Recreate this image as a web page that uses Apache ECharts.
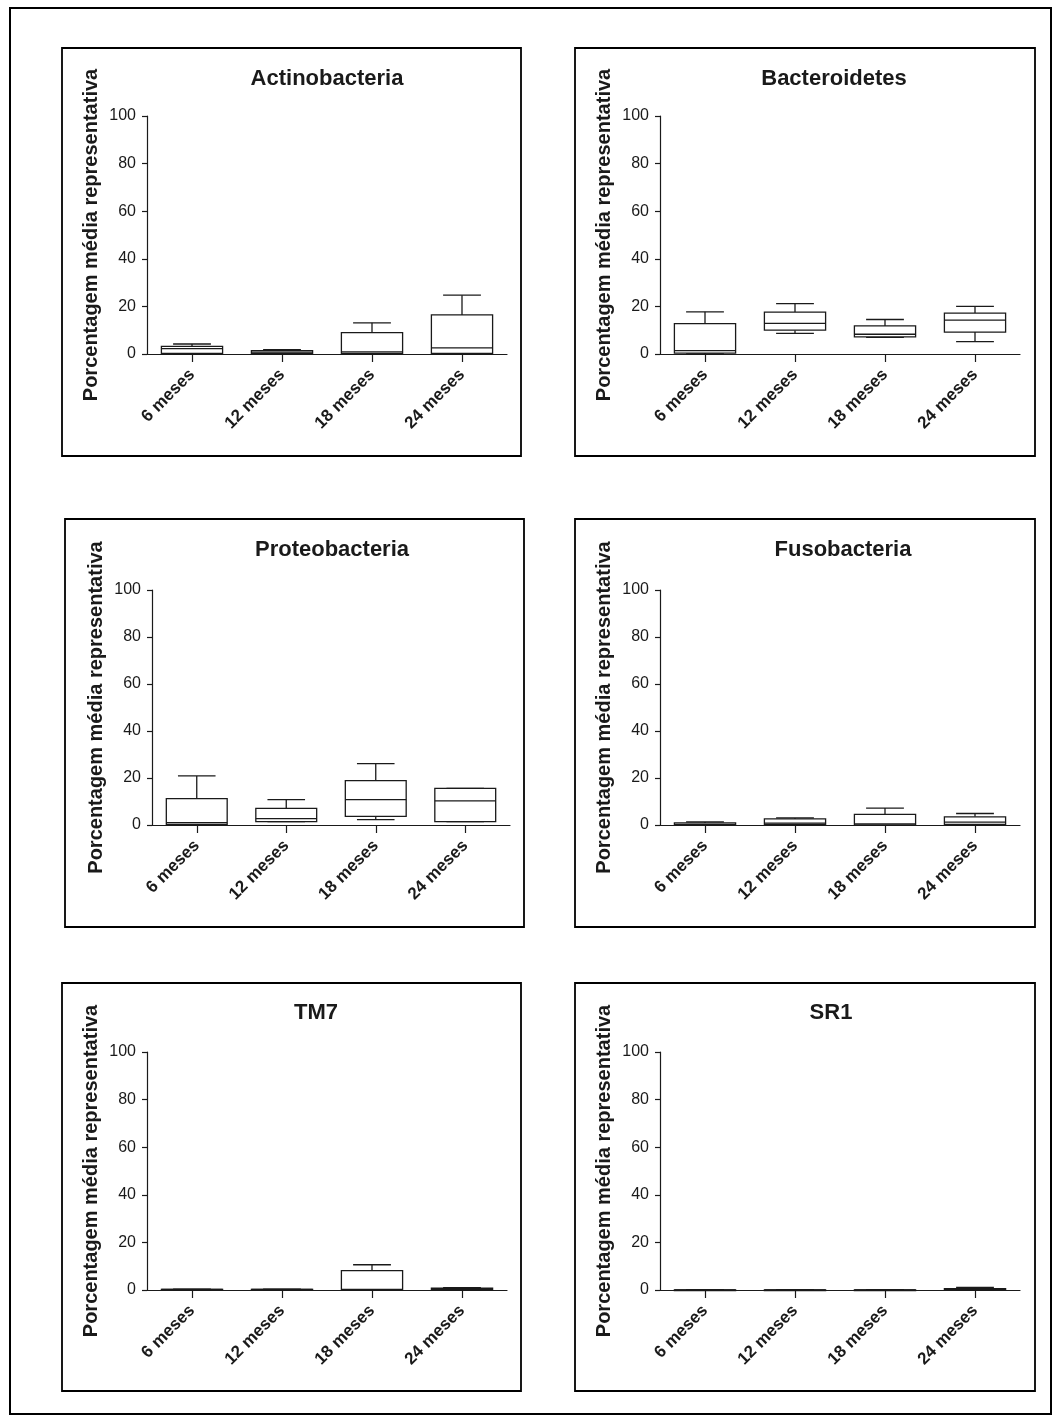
<!DOCTYPE html>
<html>
<head>
<meta charset="utf-8">
<script src="https://cdn.jsdelivr.net/npm/echarts@6/dist/echarts.min.js"></script>
<style>
  html, body { margin: 0; padding: 0; background: #fff; }
  #chart { width: 1062px; height: 1423px; }
</style>
</head>
<body>
<div id="chart"></div>
<script>
  // categorias (eixo x)
  const categories = ['6 meses', '12 meses', '18 meses', '24 meses'];
  const yTicks = [0, 20, 40, 60, 80, 100];

  // [min, Q1, mediana, Q3, max] por categoria
  const actinobacteria = [[0, 0.2, 2.3, 3.2, 4.2], [0, 0.2, 0.8, 1.4, 1.8], [0, 0.2, 0.9, 9.0, 13.1], [0, 0.2, 2.6, 16.4, 24.7]];
  const bacteroidetes = [[0, 0.4, 1.4, 12.8, 17.7], [8.7, 10.0, 12.9, 17.6, 21.2], [7.0, 7.2, 8.3, 11.8, 14.5], [5.2, 9.2, 14.2, 17.2, 20.0]];
  const proteobacteria = [[0, 0.3, 1.0, 11.2, 20.9], [1.4, 1.4, 2.7, 7.1, 10.8], [2.3, 3.7, 10.8, 18.9, 26.1], [1.4, 1.4, 10.3, 15.6, 15.6]];
  const fusobacteria = [[0, 0, 0.3, 0.9, 1.3], [0, 0.3, 0.8, 2.6, 3.0], [0, 0, 0.5, 4.5, 7.2], [0, 0.3, 1.2, 3.5, 4.9]];
  const tm7 = [[0, 0.1, 0.2, 0.3, 0.4], [0, 0.1, 0.2, 0.3, 0.4], [0, 0, 0.2, 8.1, 10.6], [0, 0.2, 0.5, 0.8, 1.0]];
  const sr1 = [[0, 0, 0, 0, 0], [0, 0, 0, 0, 0], [0, 0, 0, 0, 0], [0, 0.2, 0.3, 0.6, 1.1]];

  const panelTitles = ['Actinobacteria', 'Bacteroidetes', 'Proteobacteria', 'Fusobacteria', 'TM7', 'SR1'];
  const panelData = [actinobacteria, bacteroidetes, proteobacteria, fusobacteria, tm7, sr1];

  // layout de cada painel (moldura, grid e posicao do titulo)
  const panels = [
    { box: [62, 48, 459, 408], grid: [147, 116, 360, 238], title: [327, 79] },
    { box: [575, 48, 460, 408], grid: [660, 116, 360, 238], title: [834, 79] },
    { box: [65, 519, 459, 408], grid: [152, 590, 358, 235], title: [332, 550] },
    { box: [575, 519, 460, 408], grid: [660, 590, 360, 235], title: [843, 550] },
    { box: [62, 983, 459, 408], grid: [147, 1052, 360, 238], title: [316, 1013] },
    { box: [575, 983, 460, 408], grid: [660, 1052, 360, 238], title: [831, 1013] }
  ];

  const font = 'Liberation Sans, Arial, Helvetica, sans-serif';
  const ink = '#1a1a1a';

  // desenha caixa + bigodes a partir das coordenadas do eixo
  function renderBox(params, api) {
    const x = api.value(0);
    const pMin = api.coord([x, api.value(1)]);
    const pQ1 = api.coord([x, api.value(2)]);
    const pMed = api.coord([x, api.value(3)]);
    const pQ3 = api.coord([x, api.value(4)]);
    const pMax = api.coord([x, api.value(5)]);
    const band = api.size([1, 0])[0];
    const hw = band * 0.34;
    const cw = band * 0.21;
    const cx = pMed[0];
    const style = { stroke: ink, lineWidth: 1.3, fill: null };
    return {
      type: 'group',
      children: [
        { type: 'line', shape: { x1: cx, y1: pQ3[1], x2: cx, y2: pMax[1] }, style: style },
        { type: 'line', shape: { x1: cx - cw, y1: pMax[1], x2: cx + cw, y2: pMax[1] }, style: style },
        { type: 'line', shape: { x1: cx, y1: pQ1[1], x2: cx, y2: pMin[1] }, style: style },
        { type: 'line', shape: { x1: cx - cw, y1: pMin[1], x2: cx + cw, y2: pMin[1] }, style: style },
        { type: 'rect', shape: { x: cx - hw, y: pQ3[1], width: hw * 2, height: Math.max(pQ1[1] - pQ3[1], 0.5) }, style: { stroke: ink, lineWidth: 1.3, fill: '#fff' } },
        { type: 'line', shape: { x1: cx - hw, y1: pMed[1], x2: cx + hw, y2: pMed[1] }, style: style }
      ]
    };
  }

  const grids = [], xAxes = [], yAxes = [], series = [], graphics = [];

  // moldura externa
  graphics.push({ type: 'rect', shape: { x: 10, y: 8, width: 1041, height: 1406 }, style: { fill: null, stroke: '#000', lineWidth: 2 } });

  panels.forEach(function (p, i) {
    graphics.push({ type: 'rect', shape: { x: p.box[0], y: p.box[1], width: p.box[2], height: p.box[3] }, style: { fill: null, stroke: '#000', lineWidth: 1.8 } });
    graphics.push({
      type: 'text', x: p.title[0], y: p.title[1],
      style: { text: panelTitles[i], font: 'bold 22px ' + font, fill: ink, textAlign: 'center', textVerticalAlign: 'middle' }
    });

    grids.push({ left: p.grid[0], top: p.grid[1], width: p.grid[2], height: p.grid[3], containLabel: false });

    xAxes.push({
      type: 'category', gridIndex: i, data: categories, boundaryGap: true,
      axisLine: { show: true, lineStyle: { color: ink, width: 1.2 } },
      axisTick: { show: true, alignWithLabel: true, length: 8, lineStyle: { color: ink, width: 1.2 } },
      axisLabel: { rotate: 45, margin: 18, color: ink, fontFamily: font, fontWeight: 'bold', fontSize: 17 },
      splitLine: { show: false }
    });

    yAxes.push({
      type: 'value', gridIndex: i, min: yTicks[0], max: yTicks[yTicks.length - 1], interval: 20,
      name: 'Porcentagem média representativa', nameLocation: 'middle', nameGap: 46,
      nameTextStyle: { color: ink, fontFamily: font, fontWeight: 'bold', fontSize: 20 },
      axisLine: { show: true, lineStyle: { color: ink, width: 1.2 } },
      axisTick: { show: true, length: 5, lineStyle: { color: ink, width: 1.2 } },
      axisLabel: { color: ink, fontFamily: font, fontSize: 16, margin: 11 },
      splitLine: { show: false }
    });

    series.push({
      type: 'custom', xAxisIndex: i, yAxisIndex: i,
      renderItem: renderBox,
      encode: { x: 0, y: [1, 2, 3, 4, 5] },
      data: panelData[i].map(function (d, k) { return [k].concat(d); }),
      silent: true
    });
  });

  const chart = echarts.init(document.getElementById('chart'), null, { renderer: 'canvas' });
  chart.setOption({
    animation: false,
    backgroundColor: '#fff',
    grid: grids,
    xAxis: xAxes,
    yAxis: yAxes,
    series: series,
    graphic: graphics
  });
</script>
</body>
</html>
